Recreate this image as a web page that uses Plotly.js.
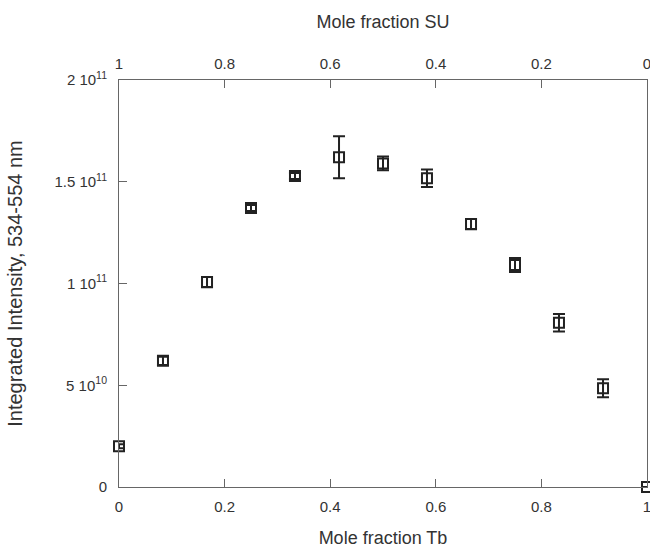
<!DOCTYPE html>
<html>
<head>
<meta charset="utf-8">
<script src="https://cdn.plot.ly/plotly-3.0.1.min.js"></script>
<style>html,body{margin:0;padding:0;background:#fff;}#chart{width:650px;height:548px;}</style>
</head>
<body>
<div id="chart"></div>
<script>
// Mole fraction Tb (bottom axis)
var moleFractionTb = [0, 0.0833, 0.1667, 0.25, 0.3333, 0.4167, 0.5, 0.5833, 0.6667, 0.75, 0.8333, 0.9167, 1];
// Integrated intensity, 534-554 nm
var intensity = [2.0e10, 6.2e10, 1.007e11, 1.371e11, 1.528e11, 1.62e11, 1.59e11, 1.517e11, 1.292e11, 1.091e11, 8.07e10, 4.85e10, 0];
var intensityErr = [0.1e10, 0.2e10, 0.25e10, 0.15e10, 0.15e10, 1.03e10, 0.34e10, 0.43e10, 0.25e10, 0.34e10, 0.43e10, 0.44e10, 0];
var yTickVals = [0, 5e10, 1e11, 1.5e11, 2e11];
var yTickText = ['0', '5 10<sup>10</sup>', '1 10<sup>11</sup>', '1.5 10<sup>11</sup>', '2 10<sup>11</sup>'];
var xTickVals = [0, 0.2, 0.4, 0.6, 0.8, 1];
var xTickText = ['0', '0.2', '0.4', '0.6', '0.8', '1'];
var topTickVals = [1, 0.8, 0.6, 0.4, 0.2, 0];
var topTickText = ['1', '0.8', '0.6', '0.4', '0.2', '0'];

var ink = '#222';
var textCol = '#333';
var font = {family: 'Liberation Sans, Arial, sans-serif', size: 15, color: textCol};

var data = [
  {
    x: moleFractionTb, y: intensity, type: 'scatter', mode: 'markers',
    marker: {symbol: 'square-open', size: 10, color: ink, line: {width: 2, color: ink}},
    error_y: {type: 'data', array: intensityErr, visible: true, color: ink, thickness: 2, width: 6},
    cliponaxis: false, showlegend: false, hoverinfo: 'skip'
  },
  {
    x: topTickVals, y: [null, null, null, null, null, null], xaxis: 'x2', yaxis: 'y',
    type: 'scatter', mode: 'markers', showlegend: false, hoverinfo: 'skip'
  }
];

var layout = {
  width: 650, height: 548,
  margin: {l: 119, r: 3, t: 80, b: 61},
  paper_bgcolor: '#fff', plot_bgcolor: '#fff',
  font: font,
  showlegend: false,
  xaxis: {
    range: [0, 1], tickvals: xTickVals, ticktext: xTickText,
    ticks: 'inside', ticklen: 8, tickwidth: 1, tickcolor: '#666',
    showline: true, linecolor: '#666', linewidth: 1, mirror: false,
    showgrid: false, zeroline: false, ticklabelstandoff: 6, ticklabeloverflow: 'allow',
    tickfont: {size: 15, color: textCol},
    title: {text: 'Mole fraction Tb', font: {size: 18, color: textCol}, standoff: 19},
    automargin: false
  },
  xaxis2: {
    overlaying: 'x', side: 'top', range: [1, 0], tickvals: topTickVals, ticktext: topTickText,
    ticks: 'inside', ticklen: 8, tickwidth: 1, tickcolor: '#666',
    showline: true, linecolor: '#666', linewidth: 1,
    showgrid: false, zeroline: false, ticklabelstandoff: 4, ticklabeloverflow: 'allow',
    tickfont: {size: 15, color: textCol},
    title: {text: 'Mole fraction SU', font: {size: 18, color: textCol}, standoff: 21},
    automargin: false
  },
  yaxis: {
    range: [0, 2e11], tickvals: yTickVals, ticktext: yTickText,
    ticks: 'inside', ticklen: 8, tickwidth: 1, tickcolor: '#666',
    showline: true, linecolor: '#666', linewidth: 1, mirror: true,
    showgrid: false, zeroline: false, ticklabelstandoff: 8,
    tickfont: {size: 15, color: textCol},
    title: {text: 'Integrated Intensity, 534-554 nm', font: {size: 20, color: textCol}, standoff: 26},
    automargin: false
  }
};

Plotly.newPlot('chart', data, layout, {displayModeBar: false, staticPlot: true});
</script>
</body>
</html>
